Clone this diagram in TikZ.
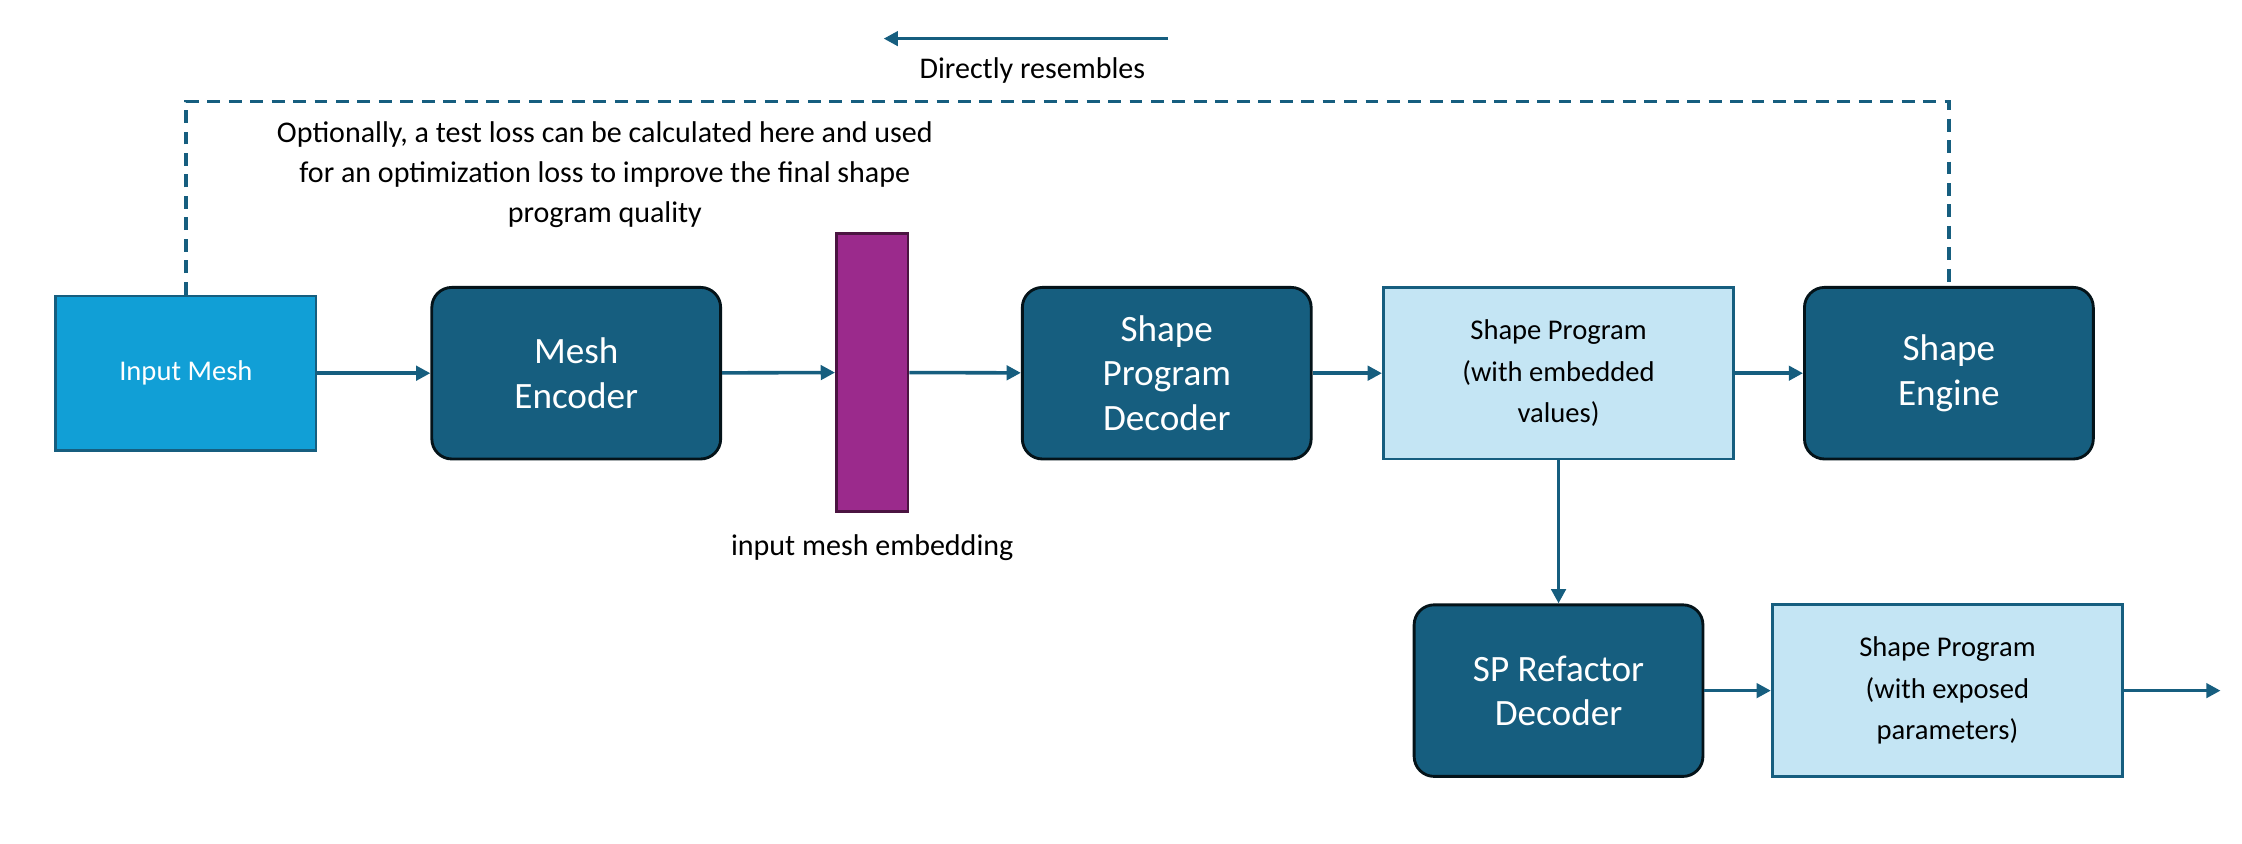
\documentclass[tikz,border=0pt]{standalone}
\usepackage{fontspec}
\setmainfont{Carlito}
\usetikzlibrary{arrows.meta}
\definecolor{darkteal}{RGB}{22,94,127}
\definecolor{brightblue}{RGB}{17,159,214}
\definecolor{paleblue}{RGB}{196,229,244}
\definecolor{embpurple}{RGB}{155,42,140}
\definecolor{embedge}{RGB}{75,20,65}
\tikzset{every picture/.style={line width=2pt}}
\tikzset{
  block/.style={draw=black!80!darkteal,fill=darkteal,rounded corners=14pt,minimum width=202pt,minimum height=120pt,align=center,text=white,font=\fontsize{26}{31}\selectfont},
  prog/.style={draw=darkteal,fill=paleblue,minimum width=245pt,minimum height=120pt,align=center,text=black,font=\fontsize{20}{29}\selectfont},
  flow/.style={darkteal,line width=2.5pt,-{Triangle[length=10pt,width=10pt]}}
}
\begin{document}
\begin{tikzpicture}[x=1pt,y=1pt,yscale=-1,xscale=1]
\useasboundingbox (0,0) rectangle (1568,590);

%Shapes
\node [draw=darkteal,fill=brightblue,minimum width=182pt,minimum height=108pt,text=white,font=\fontsize{20}{24}\selectfont] (inmesh) at (130,261) {Input Mesh};
\node [block] (encoder) at (403,261) {Mesh\\Encoder};
\node [draw=embedge,fill=embpurple,minimum width=50pt,minimum height=195pt] (embed) at (610,260.5) {};
\node [block] (decoder) at (816,261) {Shape\\Program\\Decoder};
\node [prog] (spembed) at (1090,261) {Shape Program\\(with embedded\\values)};
\node [block] (engine) at (1363,261) {Shape\\Engine};
\node [block] (refactor) at (1090,483) {SP Refactor\\Decoder};
\node [prog] (spexpose) at (1362,483) {Shape Program\\(with exposed\\parameters)};
\coordinate (out) at (1553,483);

%Connectors
\draw [flow] (inmesh) -- (encoder);
\draw [flow] (encoder) -- (embed);
\draw [flow] (embed) -- (decoder);
\draw [flow] (decoder) -- (spembed);
\draw [flow] (spembed) -- (engine);
\draw [flow] (spembed) -- (refactor);
\draw [flow] (refactor) -- (spexpose);
\draw [flow] (spexpose) -- (out);

%Dashed loop
\draw [darkteal,line width=2.5pt,dash pattern={on 9pt off 6pt}] (inmesh.north) -- (130,71) -- (1363,71) -- (engine.north);
\coordinate (dirstart) at (817,27);
\coordinate (dirend) at (618,27);
\draw [flow] (dirstart) -- (dirend);

% Text Node
\node [font=\fontsize{21}{28}\selectfont] (resembles) at (722,49) {Directly resembles};
% Text Node
\node [align=center,font=\fontsize{21}{28}\selectfont] (optional) at (423,122) {Optionally, a test loss can be calculated here and used\\for an optimization loss to improve the final shape\\program quality};
% Text Node
\node [font=\fontsize{21}{28}\selectfont] (embedlabel) at (610,383) {input mesh embedding};
\end{tikzpicture}
\end{document}
